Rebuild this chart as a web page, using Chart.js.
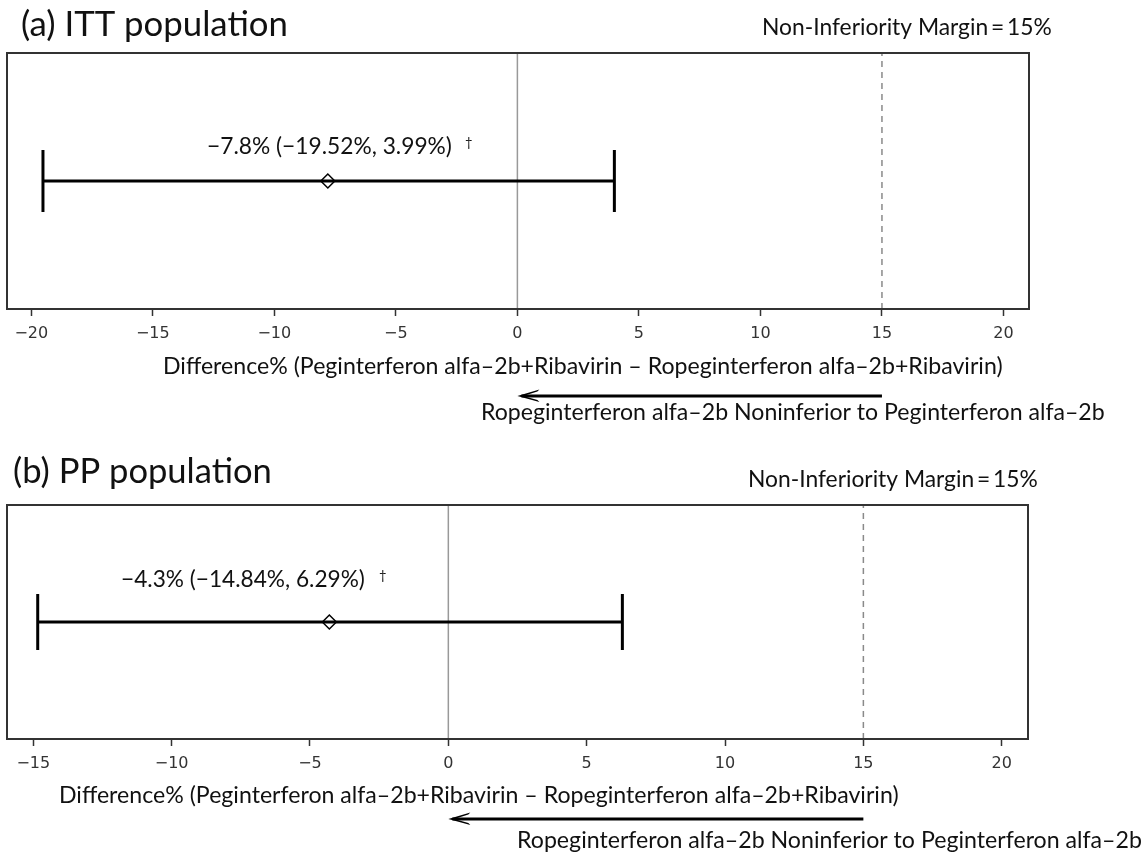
<!DOCTYPE html>
<html>
<head>
<meta charset="utf-8">
<script src="https://cdn.jsdelivr.net/npm/chart.js@4/dist/chart.umd.min.js"></script>
<style>
  html, body { margin: 0; padding: 0; background: #fff; }
  #wrap { position: relative; width: 1148px; height: 857px; }
  canvas { position: absolute; left: 0; }
</style>
</head>
<body>
<div id="wrap">
  <canvas id="ittChart" width="1148" height="430" style="top:0"></canvas>
  <canvas id="ppChart" width="1148" height="427" style="top:430px"></canvas>
</div>
<script>
// data
const panelTitles = ["(a) ITT population", "(b) PP population"];
const estimates = [-7.8, -4.3];
const lowerCI = [-19.52, -14.84];
const upperCI = [3.99, 6.29];
const ciLabels = ["\u22127.8% (\u221219.52%, 3.99%)", "\u22124.3% (\u221214.84%, 6.29%)"];
const marginValue = 15;
const ittTicks = [-20, -15, -10, -5, 0, 5, 10, 15, 20];
const ppTicks = [-15, -10, -5, 0, 5, 10, 15, 20];
const xLimits = [[-21, 21.05], [-15.95, 20.95]];

const marginText = "Non-Inferiority Margin\u2009=\u200915%";
const axisTitle = "Difference% (Peginterferon alfa\u20132b+Ribavirin \u2013 Ropeginterferon alfa\u20132b+Ribavirin)";
const arrowText = "Ropeginterferon alfa\u20132b Noninferior to Peginterferon alfa\u20132b";

const FONT = "Lato, 'Open Sans', sans-serif";

// where the text sits in each panel (pixels inside that panel's canvas)
const layouts = [
  {
    padding: { left: 7, right: 119, top: 53, bottom: 0 }, axisHeight: 121, capRadius: 31,
    title: [21, 36, 267], margin: [762, 34.5, 290], label: [207, 154, 245], dagger: [465, 147],
    axis: [163, 374, 840], arrowY: 396, arrowText: [481, 420, 624]
  },
  {
    padding: { left: 7, right: 120, top: 75, bottom: 0 }, axisHeight: 118, capRadius: 28,
    title: [13, 52.7, 259], margin: [748, 57.3, 290], label: [121, 156.7, 244], dagger: [379, 150],
    axis: [59, 373, 840], arrowY: 389, arrowText: [517, 418, 625]
  }
];

// draw text stretched to the width it has in the original figure
function fitText(ctx, text, spec) {
  ctx.font = "100px " + FONT;
  const size = 100 * spec[2] / ctx.measureText(text).width;
  ctx.font = size.toFixed(2) + "px " + FONT;
  ctx.textAlign = "left";
  ctx.textBaseline = "alphabetic";
  ctx.fillText(text, spec[0], spec[1]);
}

function minusFmt(v) {
  return v < 0 ? "\u2212" + Math.abs(v) : String(v);
}

const decorations = {
  id: "decorations",
  afterDatasetsDraw(chart, args, opts) {
    const ctx = chart.ctx;
    const a = chart.chartArea;
    const lay = opts.layout;
    const xs = chart.scales.x;
    ctx.save();
    // plot frame
    ctx.strokeStyle = "#333";
    ctx.lineWidth = 2;
    ctx.strokeRect(a.left, a.top, a.right - a.left, a.bottom - a.top);

    ctx.fillStyle = "#111";
    fitText(ctx, opts.title, lay.title);
    fitText(ctx, marginText, lay.margin);
    fitText(ctx, opts.label, lay.label);
    ctx.font = "13px " + FONT;
    ctx.fillText("\u2020", lay.dagger[0], lay.dagger[1]);
    fitText(ctx, axisTitle, lay.axis);
    fitText(ctx, arrowText, lay.arrowText);

    // arrow from the margin back to zero
    const x1 = xs.getPixelForValue(marginValue);
    const x0 = xs.getPixelForValue(0);
    const y = lay.arrowY;
    ctx.strokeStyle = "#000";
    ctx.fillStyle = "#000";
    ctx.lineWidth = 3;
    ctx.beginPath();
    ctx.moveTo(x1, y);
    ctx.lineTo(x0 + 4, y);
    ctx.stroke();
    ctx.beginPath();
    ctx.moveTo(x0 + 22, y - 6.5);
    ctx.lineTo(x0, y);
    ctx.lineTo(x0 + 22, y + 6);
    ctx.lineTo(x0 + 20, y + 4);
    ctx.lineTo(x0 + 6, y);
    ctx.lineTo(x0 + 20, y - 4.5);
    ctx.closePath();
    ctx.fill();
    ctx.restore();
  }
};

function makePanel(canvasId, i, ticks) {
  const lay = layouts[i];
  const ctx = document.getElementById(canvasId).getContext("2d");
  return new Chart(ctx, {
    type: "scatter",
    data: {
      datasets: [
        { // confidence interval
          data: [{ x: lowerCI[i], y: 0 }, { x: upperCI[i], y: 0 }],
          showLine: true, borderColor: "#000", borderWidth: 3, pointRadius: 0
        },
        { // end caps
          data: [{ x: lowerCI[i], y: 0 }, { x: upperCI[i], y: 0 }],
          pointStyle: "line", rotation: 90, pointRadius: lay.capRadius,
          borderColor: "#000", borderWidth: 3
        },
        { // point estimate
          data: [{ x: estimates[i], y: 0 }],
          pointStyle: "rectRot", pointRadius: 7,
          backgroundColor: "#fff", borderColor: "#000", borderWidth: 1.5
        },
        { // zero line
          data: [{ x: 0, y: -1 }, { x: 0, y: 1 }],
          showLine: true, borderColor: "#999", borderWidth: 1.5, pointRadius: 0
        },
        { // non-inferiority margin
          data: [{ x: marginValue, y: -1 }, { x: marginValue, y: 1 }],
          showLine: true, borderColor: "#8a8a8a", borderWidth: 1.5, borderDash: [6, 5], pointRadius: 0
        }
      ]
    },
    options: {
      responsive: false,
      animation: false,
      layout: { padding: lay.padding, autoPadding: false },
      scales: {
        x: {
          type: "linear",
          min: xLimits[i][0],
          max: xLimits[i][1],
          afterBuildTicks: (scale) => { scale.ticks = ticks.map(v => ({ value: v })); },
          afterFit: (scale) => {
            scale.height = lay.axisHeight;
            scale.paddingLeft = 0;
            scale.paddingRight = 0;
          },
          grid: { drawOnChartArea: false, drawTicks: true, tickLength: 7, tickColor: "#333", tickWidth: 1.5 },
          border: { display: false },
          ticks: {
            font: { family: "'DejaVu Sans', sans-serif", size: 16 },
            color: "#333",
            padding: 8,
            maxRotation: 0,
            autoSkip: false,
            callback: (v) => minusFmt(v)
          }
        },
        y: { display: false, min: -1, max: 1 }
      },
      plugins: {
        legend: { display: false },
        tooltip: { enabled: false },
        decorations: { layout: lay, title: panelTitles[i], label: ciLabels[i] }
      }
    },
    plugins: [decorations]
  });
}

makePanel("ittChart", 0, ittTicks);
makePanel("ppChart", 1, ppTicks);
</script>
</body>
</html>
